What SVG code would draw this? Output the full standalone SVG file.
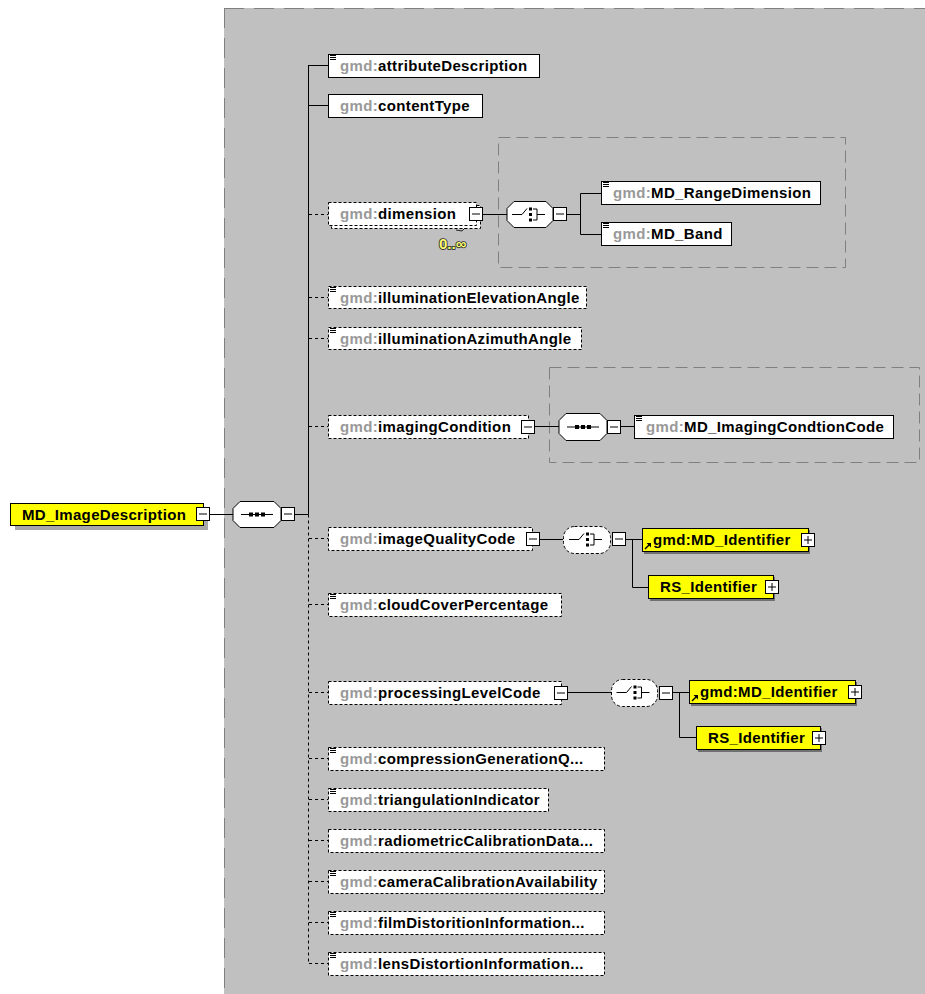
<svg xmlns="http://www.w3.org/2000/svg" width="925" height="994" viewBox="0 0 925 994">
<defs>
<style>
.t{font-family:"Liberation Sans",Arial,sans-serif;font-size:15px;font-weight:bold;letter-spacing:0.35px;fill:#000}
.p{fill:#999}
.bx{fill:#fff;stroke:#000;stroke-width:1}
.ob{fill:#fff;stroke:#000;stroke-width:1;stroke-dasharray:3,2}
.yb{fill:#ffff00;stroke:#000;stroke-width:1}
.sh{fill:#707070}
.ln{fill:none;stroke:#000;stroke-width:1}
.dl{fill:none;stroke:#000;stroke-width:1;stroke-dasharray:3,3}
.grp{fill:none;stroke:#808080;stroke-width:1;stroke-dasharray:12,6}
</style>
<g id="minus"><rect x="0.5" y="0.5" width="13" height="13" class="bx"/><line x1="3" y1="7" x2="11" y2="7" stroke="#000"/></g>
<g id="plus"><rect x="0.5" y="0.5" width="13" height="13" class="bx"/><line x1="3" y1="7" x2="11" y2="7" stroke="#000"/><line x1="7" y1="3" x2="7" y2="11" stroke="#000"/></g>
<g id="ico"><path d="M2,1.5H8M2,3.5H8M2,5.5H8" stroke="#000" stroke-width="1"/></g>
<g id="seqi"><line x1="-16" y1="0" x2="16" y2="0" stroke="#000"/><rect x="-8" y="-2" width="4" height="4" fill="#000"/><rect x="-2" y="-2" width="4" height="4" fill="#000"/><rect x="4" y="-2" width="4" height="4" fill="#000"/></g>
<g id="choi"><path d="M-18,0H-8L-3,-6M3,-5.5H7V5.5H3M7,0H15" fill="none" stroke="#000"/><rect x="-1" y="-7" width="3" height="3" fill="#000"/><rect x="-1" y="-1.5" width="3" height="3" fill="#000"/><rect x="-1" y="4" width="3" height="3" fill="#000"/></g>
<g id="arr"><path d="M0,6L4,2" stroke="#000" stroke-width="1.5"/><path d="M1.5,0H6V4.5Z" fill="#000"/></g>
</defs>

<g id="panel">
<rect x="224" y="8" width="701" height="986" fill="#c0c0c0"/>
<line x1="224" y1="8.5" x2="925" y2="8.5" stroke="#808080" stroke-dasharray="20,10"/>
<line x1="224.5" y1="8" x2="224.5" y2="994" stroke="#808080" stroke-dasharray="20,10"/>
</g>

<g id="groups">
<rect class="grp" x="498.5" y="137.5" width="347" height="130"/>
<rect class="grp" x="549.5" y="367.5" width="370" height="95"/>
</g>

<g id="connectors">
<line class="ln" x1="210" y1="514.5" x2="233" y2="514.5"/>
<line class="ln" x1="295" y1="514.5" x2="308.5" y2="514.5"/>
<line class="ln" x1="308.5" y1="65" x2="308.5" y2="514.5"/>
<line class="dl" x1="308.5" y1="514.5" x2="308.5" y2="964"/>
<line class="ln" x1="308.5" y1="65.5" x2="328" y2="65.5"/>
<line class="ln" x1="308.5" y1="105.5" x2="328" y2="105.5"/>
<line class="dl" x1="309" y1="214.5" x2="328" y2="214.5"/>
<line class="dl" x1="309" y1="297.5" x2="328" y2="297.5"/>
<line class="dl" x1="309" y1="338.5" x2="328" y2="338.5"/>
<line class="dl" x1="309" y1="426.5" x2="328" y2="426.5"/>
<line class="dl" x1="309" y1="538.5" x2="328" y2="538.5"/>
<line class="dl" x1="309" y1="604.5" x2="328" y2="604.5"/>
<line class="dl" x1="309" y1="692.5" x2="328" y2="692.5"/>
<line class="dl" x1="309" y1="758.5" x2="328" y2="758.5"/>
<line class="dl" x1="309" y1="799.5" x2="328" y2="799.5"/>
<line class="dl" x1="309" y1="840.5" x2="328" y2="840.5"/>
<line class="dl" x1="309" y1="881.5" x2="328" y2="881.5"/>
<line class="dl" x1="309" y1="922.5" x2="328" y2="922.5"/>
<line class="dl" x1="309" y1="963.5" x2="328" y2="963.5"/>
<line class="ln" x1="483" y1="214.5" x2="507" y2="214.5"/>
<path class="ln" d="M567,214.5H580.5M601,193.5H580.5V234.5H601"/>
<line class="ln" x1="535" y1="426.5" x2="559" y2="426.5"/>
<line class="ln" x1="621" y1="426.5" x2="634" y2="426.5"/>
<line class="ln" x1="540" y1="539.5" x2="563" y2="539.5"/>
<path class="ln" d="M626,539.5H642M632.5,539.5V587.5H648"/>
<line class="ln" x1="568" y1="692.5" x2="611" y2="692.5"/>
<path class="ln" d="M673,692.5H689M679.5,692.5V737.5H696"/>
</g>

<g id="root">
<rect x="15" y="508" width="193" height="22" fill="#a8a8a8"/>
<rect class="yb" x="10.5" y="503.5" width="193" height="22"/>
<text class="t" x="22" y="520">MD_ImageDescription</text>
<use href="#minus" x="196" y="507"/>
</g>

<g id="seq-root">
<path class="bx" d="M240,501.5H274L281,508.5V520.5L274,527.5H240L233,520.5V508.5Z"/>
<use href="#seqi" x="257" y="514.5"/>
<use href="#minus" x="281" y="507"/>
</g>

<g id="attributeDescription">
<rect class="bx" x="328.5" y="54.5" width="211" height="23"/>
<use href="#ico" x="328" y="54"/>
<text class="t" x="340" y="71"><tspan class="p">gmd:</tspan>attributeDescription</text>
</g>
<g id="contentType">
<rect class="bx" x="328.5" y="94.5" width="154" height="23"/>
<text class="t" x="340" y="111"><tspan class="p">gmd:</tspan>contentType</text>
</g>
<g id="dimension">
<rect class="ob" x="331.5" y="205.5" width="149" height="23"/>
<rect class="ob" x="328.5" y="202.5" width="148" height="23"/>
<text class="t" x="340" y="219"><tspan class="p">gmd:</tspan>dimension</text>
<use href="#minus" x="469" y="207"/>
<path d="M456,230L462,231L465,228" fill="none" stroke="#000" stroke-width="0.8"/>
<text x="439" y="249" font-family="Liberation Sans,Arial,sans-serif" font-size="15" font-weight="bold" fill="#ffff70" stroke="#222" stroke-width="1.6" paint-order="stroke">0..∞</text>
</g>
<g id="choice-dimension">
<path class="bx" d="M514,201.5H546L553,208.5V220.5L546,227.5H514L507,220.5V208.5Z"/>
<use href="#choi" x="530" y="214.5"/>
<use href="#minus" x="553" y="207"/>
</g>
<g id="MD_RangeDimension">
<rect class="bx" x="601.5" y="181.5" width="219" height="23"/>
<use href="#ico" x="601" y="181"/>
<text class="t" x="613" y="198"><tspan class="p">gmd:</tspan>MD_RangeDimension</text>
</g>
<g id="MD_Band">
<rect class="bx" x="601.5" y="222.5" width="130" height="23"/>
<use href="#ico" x="601" y="222"/>
<text class="t" x="613" y="239"><tspan class="p">gmd:</tspan>MD_Band</text>
</g>
<g id="illuminationElevationAngle">
<rect class="ob" x="328.5" y="286.5" width="258" height="22"/>
<use href="#ico" x="328" y="286"/>
<text class="t" x="340" y="303"><tspan class="p">gmd:</tspan>illuminationElevationAngle</text>
</g>
<g id="illuminationAzimuthAngle">
<rect class="ob" x="328.5" y="327.5" width="253" height="22"/>
<use href="#ico" x="328" y="327"/>
<text class="t" x="340" y="344"><tspan class="p">gmd:</tspan>illuminationAzimuthAngle</text>
</g>
<g id="imagingCondition">
<rect class="ob" x="328.5" y="415.5" width="200" height="23"/>
<text class="t" x="340" y="432"><tspan class="p">gmd:</tspan>imagingCondition</text>
<use href="#minus" x="521" y="420"/>
</g>
<g id="seq-imagingCondition">
<path class="bx" d="M566,413.5H600L607,420.5V433.5L600,440.5H566L559,433.5V420.5Z"/>
<use href="#seqi" x="583" y="427"/>
<use href="#minus" x="607" y="420"/>
</g>
<g id="MD_ImagingCondtionCode">
<rect class="bx" x="634.5" y="415.5" width="259" height="23"/>
<use href="#ico" x="634" y="415"/>
<text class="t" x="646" y="432"><tspan class="p">gmd:</tspan>MD_ImagingCondtionCode</text>
</g>
<g id="imageQualityCode">
<rect class="ob" x="328.5" y="527.5" width="204" height="23"/>
<text class="t" x="340" y="544"><tspan class="p">gmd:</tspan>imageQualityCode</text>
<use href="#minus" x="526" y="532"/>
</g>
<g id="choice-imageQualityCode">
<rect class="ob" x="563.5" y="526.5" width="47" height="27" rx="11"/>
<use href="#choi" x="587" y="539.5"/>
<use href="#minus" x="612" y="532"/>
</g>
<g id="MD_Identifier-1">
<rect class="sh" x="644" y="530" width="166" height="24"/>
<rect class="yb" x="642.5" y="528.5" width="166" height="23"/>
<use href="#arr" x="645" y="543"/>
<text class="t" x="653" y="545">gmd:MD_Identifier</text>
<use href="#plus" x="801" y="533"/>
</g>
<g id="RS_Identifier-1">
<rect class="sh" x="650" y="577" width="125" height="24"/>
<rect class="yb" x="648.5" y="575.5" width="125" height="23"/>
<text class="t" x="660" y="592">RS_Identifier</text>
<use href="#plus" x="765" y="580"/>
</g>
<g id="cloudCoverPercentage">
<rect class="ob" x="328.5" y="593.5" width="233" height="23"/>
<use href="#ico" x="328" y="593"/>
<text class="t" x="340" y="610"><tspan class="p">gmd:</tspan>cloudCoverPercentage</text>
</g>
<g id="processingLevelCode">
<rect class="ob" x="328.5" y="681.5" width="233" height="23"/>
<text class="t" x="340" y="698"><tspan class="p">gmd:</tspan>processingLevelCode</text>
<use href="#minus" x="554" y="686"/>
</g>
<g id="choice-processingLevelCode">
<rect class="ob" x="611.5" y="679.5" width="46" height="27" rx="11"/>
<use href="#choi" x="634.5" y="692.5"/>
<use href="#minus" x="659" y="686"/>
</g>
<g id="MD_Identifier-2">
<rect class="sh" x="691" y="682" width="166" height="24"/>
<rect class="yb" x="689.5" y="680.5" width="166" height="23"/>
<use href="#arr" x="692" y="695"/>
<text class="t" x="700" y="697">gmd:MD_Identifier</text>
<use href="#plus" x="848" y="685"/>
</g>
<g id="RS_Identifier-2">
<rect class="sh" x="698" y="728" width="124" height="24"/>
<rect class="yb" x="696.5" y="726.5" width="124" height="23"/>
<text class="t" x="708" y="743">RS_Identifier</text>
<use href="#plus" x="812" y="731"/>
</g>
<g id="compressionGenerationQuantity">
<rect class="ob" x="328.5" y="747.5" width="276" height="23"/>
<use href="#ico" x="328" y="747"/>
<text class="t" x="340" y="764"><tspan class="p">gmd:</tspan>compressionGenerationQ...</text>
</g>
<g id="triangulationIndicator">
<rect class="ob" x="328.5" y="788.5" width="220" height="23"/>
<use href="#ico" x="328" y="788"/>
<text class="t" x="340" y="805"><tspan class="p">gmd:</tspan>triangulationIndicator</text>
</g>
<g id="radiometricCalibrationDataAvailability">
<rect class="ob" x="328.5" y="829.5" width="276" height="23"/>
<text class="t" x="340" y="846"><tspan class="p">gmd:</tspan>radiometricCalibrationData...</text>
</g>
<g id="cameraCalibrationAvailability">
<rect class="ob" x="328.5" y="870.5" width="276" height="23"/>
<use href="#ico" x="328" y="870"/>
<text class="t" x="340" y="887"><tspan class="p">gmd:</tspan>cameraCalibrationAvailability</text>
</g>
<g id="filmDistortionInformationAvailability">
<rect class="ob" x="328.5" y="911.5" width="276" height="23"/>
<use href="#ico" x="328" y="911"/>
<text class="t" x="340" y="928"><tspan class="p">gmd:</tspan>filmDistoritionInformation...</text>
</g>
<g id="lensDistortionInformationAvailability">
<rect class="ob" x="328.5" y="952.5" width="276" height="23"/>
<use href="#ico" x="328" y="952"/>
<text class="t" x="340" y="969"><tspan class="p">gmd:</tspan>lensDistortionInformation...</text>
</g>
</svg>
